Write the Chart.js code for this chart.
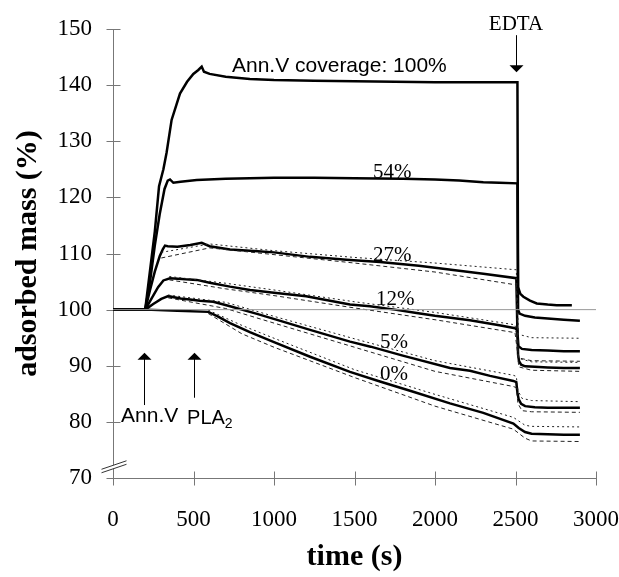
<!DOCTYPE html>
<html>
<head>
<meta charset="utf-8">
<title>adsorbed mass vs time</title>
<script src="https://cdn.jsdelivr.net/npm/chart.js@4.4.1/dist/chart.umd.min.js"></script>
<style>
  html, body { margin: 0; padding: 0; background: #fff; }
  #wrap { width: 619px; height: 577px; }
</style>
</head>
<body>
<div id="wrap"><canvas id="chart" width="619" height="577"></canvas></div>
<script>
/* ================================================================
   Data (time in s, adsorbed mass in %)
   ================================================================ */
const X_TICKS = [0, 500, 1000, 1500, 2000, 2500, 3000];
const Y_TICKS = [70, 80, 90, 100, 110, 120, 130, 140, 150];

const REF_T = [0, 3000];
const REF_V = [100, 100];

// Ann.V coverage 100 %
const C100_T = [0, 200, 230, 260, 286, 313, 333, 364, 416, 460, 499, 530, 551, 565, 600, 700, 850, 1000, 1250, 1500, 1750, 2000, 2250, 2512, 2516, 2530, 2549, 2590, 2632, 2700, 2756, 2850];
const C100_V = [100, 100, 107, 114, 122, 125, 128, 133.8, 138.5, 140.6, 142, 142.7, 143.3, 142.4, 142, 141.5, 141.1, 140.9, 140.8, 140.7, 140.6, 140.5, 140.5, 140.5, 104, 102.8, 102.3, 101.6, 101.1, 100.9, 100.8, 100.8];

// 54 %
const C54_T = [0, 200, 230, 260, 290, 320, 340, 354, 375, 420, 520, 700, 1000, 1250, 1500, 1800, 2000, 2150, 2300, 2400, 2512, 2516, 2525, 2560, 2620, 2700, 2800, 2900];
const C54_V = [100, 100, 105, 111.5, 117, 121.5, 123, 123.2, 122.6, 122.8, 123.1, 123.3, 123.5, 123.5, 123.4, 123.3, 123.2, 123, 122.7, 122.6, 122.5, 100, 99.3, 98.9, 98.6, 98.4, 98.2, 98.0];

// 27 %
const C27_T = [0, 200, 230, 260, 290, 310, 323, 340, 400, 480, 551, 600, 727, 900, 1000, 1224, 1450, 1658, 1900, 2100, 2300, 2505, 2512, 2518, 2540, 2600, 2700, 2800, 2900];
const C27_V = [100, 100, 103.5, 106.8, 109.5, 110.8, 111.4, 111.3, 111.2, 111.5, 111.9, 111.3, 110.7, 110.4, 110.2, 109.4, 108.9, 108.5, 107.8, 107.1, 106.4, 105.6, 96, 93.5, 93, 92.8, 92.7, 92.6, 92.6];
const B27_T  = [300, 600, 1000, 1500, 2000, 2505, 2512, 2518, 2600, 2900];
const B27_HI = [110.2, 111.7, 110.5, 109.3, 108.3, 107.1, 101, 95.6, 95.0, 94.9];
const B27_LO = [109.2, 111.0, 109.8, 108.3, 106.7, 104.4, 97, 91.4, 90.9, 90.8];

// 12 %
const C12_T = [0, 200, 240, 280, 313, 354, 450, 520, 600, 727, 851, 1000, 1200, 1472, 1596, 1750, 1886, 2000, 2217, 2400, 2497, 2512, 2516, 2522, 2535, 2560, 2620, 2700, 2800, 2900];
const C12_V = [100, 100, 102, 104, 105.2, 105.6, 105.4, 105.3, 104.8, 104.1, 103.5, 103, 102.4, 100.9, 100.6, 100, 99.4, 98.9, 98.1, 97.2, 96.7, 96.3, 92, 90.8, 90.2, 89.9, 89.8, 89.7, 89.6, 89.6];
const B12_T  = [350, 700, 1000, 1500, 2000, 2497, 2512, 2520, 2600, 2900];
const B12_HI = [105.9, 104.7, 103.5, 101.4, 99.5, 97.3, 94, 91.3, 90.7, 90.6];
const B12_LO = [105.3, 103.7, 102.5, 100.3, 98.2, 95.9, 92.5, 89.8, 89.2, 89.0];

// 5 %
const C5_T = [0, 200, 250, 300, 343, 420, 478, 540, 623, 727, 900, 1050, 1224, 1472, 1600, 1800, 2093, 2217, 2342, 2487, 2505, 2512, 2520, 2535, 2560, 2620, 2700, 2800, 2900];
const C5_V = [100, 100, 101, 101.9, 102.4, 102, 101.8, 101.6, 101.4, 100.6, 99.2, 97.9, 96.4, 94.3, 93.4, 91.8, 89.6, 89.1, 88.2, 87.3, 87.1, 85.2, 84.0, 83.2, 82.8, 82.6, 82.5, 82.5, 82.5];
const B5_T  = [343, 700, 1000, 1500, 2000, 2487, 2505, 2515, 2540, 2600, 2900];
const B5_HI = [102.6, 101.3, 98.8, 94.8, 90.9, 88.3, 88.1, 85.6, 84.2, 83.8, 83.6];
const B5_LO = [102.1, 100.2, 97.6, 93.3, 89.0, 86.3, 86.1, 83.3, 82.0, 81.8, 81.7];

// 0 %
const C0_T = [0, 200, 400, 592, 650, 727, 850, 1000, 1224, 1472, 1658, 1850, 2093, 2300, 2487, 2520, 2559, 2600, 2700, 2800, 2900];
const C0_V = [100, 100, 99.8, 99.6, 98.8, 97.6, 96, 94.2, 91.6, 88.9, 87.2, 85.5, 83.3, 81.6, 79.7, 78.9, 78.2, 77.9, 77.8, 77.7, 77.7];
const B0_T  = [592, 800, 1000, 1500, 2000, 2487, 2559, 2600, 2900];
const B0_HI = [99.9, 97.2, 94.9, 89.3, 84.9, 80.8, 79.4, 79.2, 79.1];
const B0_LO = [99.3, 95.7, 93.3, 87.9, 82.8, 78.7, 77.1, 76.6, 76.5];
/* ================================================================ */

const SERIF = "'Liberation Serif', 'Times New Roman', serif";
const SANS  = "'Liberation Sans', Arial, sans-serif";

const pts = (T, V) => T.map((t, i) => ({ x: t, y: V[i] }));

const mean  = (T, V) => ({ data: pts(T, V), borderColor: '#000', borderWidth: 2.5 });
const upper = (T, V) => ({ data: pts(T, V), borderColor: '#222', borderWidth: 1, borderDash: [2, 3] });
const lower = (T, V) => ({ data: pts(T, V), borderColor: '#222', borderWidth: 1, borderDash: [4, 3] });

const datasets = [
  { data: pts(REF_T, REF_V), borderColor: '#999', borderWidth: 1 },
  upper(B27_T, B27_HI), lower(B27_T, B27_LO),
  upper(B12_T, B12_HI), lower(B12_T, B12_LO),
  upper(B5_T, B5_HI),   lower(B5_T, B5_LO),
  upper(B0_T, B0_HI),   lower(B0_T, B0_LO),
  mean(C0_T, C0_V), mean(C5_T, C5_V), mean(C12_T, C12_V),
  mean(C27_T, C27_V), mean(C54_T, C54_V), mean(C100_T, C100_V),
];

// ── axes, break marks, arrows and labels ──────────────────────────
function arrow(ctx, px, yTip, yEnd) {
  const dir = yEnd > yTip ? 1 : -1;
  ctx.beginPath();
  ctx.moveTo(px, yTip + 6 * dir);
  ctx.lineTo(px, yEnd);
  ctx.stroke();
  ctx.beginPath();
  ctx.moveTo(px, yTip);
  ctx.lineTo(px - 7, yTip + 7 * dir);
  ctx.lineTo(px + 7, yTip + 7 * dir);
  ctx.closePath();
  ctx.fill();
}

const extras = {
  id: 'extras',
  beforeDatasetsDraw(chart) {
    const { ctx, scales: { x, y } } = chart;
    const ax = Math.round(x.getPixelForValue(0)) + 0.5;
    const ay = Math.round(y.getPixelForValue(70)) + 0.5;
    ctx.save();
    ctx.strokeStyle = '#777';
    ctx.lineWidth = 1;
    ctx.beginPath();
    ctx.moveTo(ax, y.getPixelForValue(150));
    ctx.lineTo(ax, ay);
    ctx.lineTo(x.getPixelForValue(3000), ay);
    Y_TICKS.forEach(v => {
      const p = Math.round(y.getPixelForValue(v)) + 0.5;
      ctx.moveTo(ax - 7, p); ctx.lineTo(ax + 7, p);
    });
    X_TICKS.forEach(v => {
      const p = Math.round(x.getPixelForValue(v)) + 0.5;
      ctx.moveTo(p, ay - 7); ctx.lineTo(p, ay + 7);
    });
    ctx.stroke();

    // axis break
    const by = y.getPixelForValue(72);
    ctx.fillStyle = '#fff';
    ctx.beginPath();
    ctx.moveTo(ax - 12, by + 6);
    ctx.lineTo(ax + 13, by - 2.5);
    ctx.lineTo(ax + 13, by - 6);
    ctx.lineTo(ax - 12, by + 2.5);
    ctx.closePath();
    ctx.fill();
    ctx.strokeStyle = '#333';
    ctx.beginPath();
    ctx.moveTo(ax - 12, by + 6);   ctx.lineTo(ax + 13, by - 2.5);
    ctx.moveTo(ax - 12, by + 2.5); ctx.lineTo(ax + 13, by - 6);
    ctx.stroke();
    ctx.restore();
  },
  afterDatasetsDraw(chart) {
    const { ctx, scales: { x, y } } = chart;
    ctx.save();
    ctx.strokeStyle = '#000';
    ctx.fillStyle = '#000';
    ctx.lineWidth = 1;

    // arrows
    arrow(ctx, Math.round(x.getPixelForValue(195)) + 0.5, y.getPixelForValue(92.3), y.getPixelForValue(83.0));
    arrow(ctx, Math.round(x.getPixelForValue(500)) + 0.5, y.getPixelForValue(92.3), y.getPixelForValue(84.3));
    arrow(ctx, Math.round(x.getPixelForValue(2503)) + 0.5, y.getPixelForValue(142.3), y.getPixelForValue(148.9));

    ctx.textBaseline = 'alphabetic';
    ctx.textAlign = 'left';

    ctx.font = `21px ${SANS}`;
    ctx.fillText('Ann.V coverage: 100%', x.getPixelForValue(739), y.getPixelForValue(142.3));
    ctx.fillText('Ann.V', x.getPixelForValue(50), y.getPixelForValue(80.0));
    ctx.font = `20px ${SANS}`;
    const plaX = x.getPixelForValue(460), plaY = y.getPixelForValue(79.6);
    ctx.fillText('PLA', plaX, plaY);
    const w = ctx.measureText('PLA').width;
    ctx.font = `14px ${SANS}`;
    ctx.fillText('2', plaX + w, plaY + 4);

    ctx.font = `21px ${SERIF}`;
    ctx.fillText('54%', x.getPixelForValue(1615), y.getPixelForValue(123.4));
    ctx.fillText('27%', x.getPixelForValue(1615), y.getPixelForValue(108.6));
    ctx.fillText('12%', x.getPixelForValue(1634), y.getPixelForValue(100.8));
    ctx.fillText('5%',  x.getPixelForValue(1658), y.getPixelForValue(93.2));
    ctx.fillText('0%',  x.getPixelForValue(1658), y.getPixelForValue(87.5));
    ctx.textAlign = 'center';
    ctx.fillText('EDTA', x.getPixelForValue(2503), y.getPixelForValue(149.8));
    ctx.restore();
  }
};

function noPad(s) {
  s.paddingLeft = 0; s.paddingRight = 0; s.paddingTop = 0; s.paddingBottom = 0;
}

new Chart(document.getElementById('chart'), {
  type: 'line',
  data: { datasets },
  plugins: [extras],
  options: {
    responsive: false,
    animation: false,
    layout: { padding: { top: 29, right: 23, left: 0, bottom: 0 } },
    elements: { point: { radius: 0 }, line: { tension: 0, fill: false } },
    plugins: { legend: { display: false }, tooltip: { enabled: false } },
    scales: {
      x: {
        type: 'linear', min: 0, max: 3000,
        afterBuildTicks: s => { s.ticks = X_TICKS.map(v => ({ value: v })); },
        ticks: { color: '#000', padding: 20, font: { family: SERIF, size: 23 }, callback: v => String(v) },
        grid: { display: false },
        border: { display: false },
        title: {
          display: true, text: 'time (s)', color: '#000',
          font: { family: SERIF, size: 30, weight: 'bold' },
          padding: { top: 0, bottom: 2 }
        },
        afterFit: s => { s.height = 99; noPad(s); }
      },
      y: {
        type: 'linear', min: 70, max: 150,
        afterBuildTicks: s => { s.ticks = Y_TICKS.map(v => ({ value: v })); },
        ticks: { color: '#000', padding: 13, font: { family: SERIF, size: 23 }, callback: v => String(v) },
        grid: { display: false },
        border: { display: false },
        title: {
          display: true, text: 'adsorbed mass (%)', color: '#000',
          font: { family: SERIF, size: 30, weight: 'bold' },
          padding: { top: 10, bottom: 0 }
        },
        afterFit: s => { s.width = 113; noPad(s); }
      }
    }
  }
});
</script>
</body>
</html>
